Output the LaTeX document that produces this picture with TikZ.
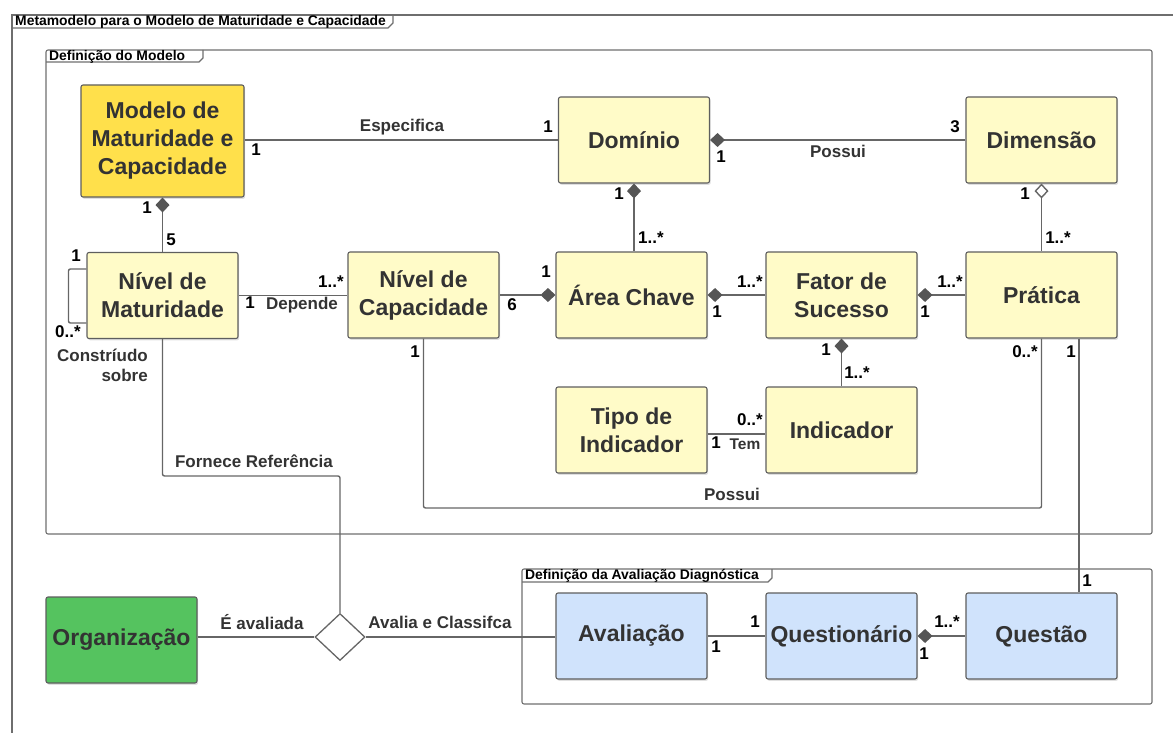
\documentclass[tikz,border=0pt]{standalone}
\usepackage{fontspec}
\setmainfont{Liberation Sans}
\usetikzlibrary{arrows.meta,shapes.geometric,shadows}
\definecolor{ylw}{HTML}{FFE04B}
\definecolor{lyl}{HTML}{FFFBC8}
\definecolor{grn}{HTML}{55C35F}
\definecolor{blu}{HTML}{D0E3FC}
\definecolor{txt}{HTML}{333333}
\definecolor{boxline}{HTML}{5E5E5E}
\definecolor{lnc}{HTML}{666666}
\definecolor{dmc}{HTML}{555555}
\definecolor{frm}{HTML}{6E6E6E}
\begin{document}
\begin{tikzpicture}[x=1pt,y=-1pt,
  cls/.style={draw=boxline, line width=1.1pt, rounded corners=2pt,
    minimum width=151pt, minimum height=86pt, inner sep=2pt, align=center,
    font=\fontsize{23}{28}\selectfont\bfseries, text=txt,
    drop shadow={shadow xshift=1.2pt, shadow yshift=-1.8pt, opacity=.25}},
  lbl/.style={font=\fontsize{17}{20}\selectfont\bfseries, text=txt, inner sep=0},
  mult/.style={font=\fontsize{17}{20}\selectfont\bfseries, text=black, inner sep=0},
  ftitle/.style={font=\fontsize{13.9}{16}\selectfont\bfseries, text=black, inner sep=0, anchor=west},
  conn/.style={draw=lnc, line width=1.4pt, rounded corners=2pt},
  comp/.style={conn, {Diamond[length=15pt,width=14pt,color=dmc]}-},
  aggr/.style={conn, {Diamond[open,length=15pt,width=14pt,fill=white]}-},
  frame/.style={draw=frm, line width=1.1pt}]
\useasboundingbox (0,0) rectangle (1173,733);

% outer package frame
\draw[frame] (12,733) -- (12,15) -- (1173,15);
\draw[frame] (12,28) -- (388,28) -- (393,23) -- (393,15);
\node[ftitle] (t1) at (15,21.5) {Metamodelo para o Modelo de Maturidade e Capacidade};

% model definition frame
\draw[frame, rounded corners=2pt] (46,50) rectangle (1152,534);
\draw[frame] (46,62) -- (199,62) -- (203,58) -- (203,50);
\node[ftitle] (t2) at (49,56.5) {Definição do Modelo};

% diagnostic assessment frame
\draw[frame, rounded corners=2pt] (522,569) rectangle (1152,704);
\draw[frame] (522,582) -- (768,582) -- (772,578) -- (772,569);
\node[ftitle] (t3) at (525,575.5) {Definição da Avaliação Diagnóstica};

% classes
\node[cls, fill=ylw, minimum width=163pt, minimum height=112pt] (mmc) at (162.5,141) {Modelo de\\Maturidade e\\Capacidade};
\node[cls, fill=lyl] (dom) at (634,140) {Domínio};
\node[cls, fill=lyl] (dim) at (1041.5,140) {Dimensão};
\node[cls, fill=lyl] (nm) at (162.5,295.5) {Nível de\\Maturidade};
\node[cls, fill=lyl] (nc) at (423.5,295) {Nível de\\Capacidade};
\node[cls, fill=lyl] (ac) at (631.5,295) {Área Chave};
\node[cls, fill=lyl] (fs) at (841.5,295) {Fator de\\Sucesso};
\node[cls, fill=lyl] (pr) at (1041.5,295) {Prática};
\node[cls, fill=lyl] (ti) at (631.5,430) {Tipo de\\Indicador};
\node[cls, fill=lyl] (ind) at (841.5,430) {Indicador};
\node[cls, fill=grn] (org) at (121.5,640) {Organização};
\node[cls, fill=blu] (av) at (631.5,636) {Avaliação};
\node[cls, fill=blu] (qn) at (841.5,636) {Questionário};
\node[cls, fill=blu] (qs) at (1041.5,636) {Questão};
\node[diamond, draw=lnc, line width=1.3pt, fill=white, inner sep=0,
  minimum width=50pt, minimum height=47pt] (dmd) at (340,637) {};

\coordinate (py) at (0,508);
\coordinate (fy) at (0,476);

% associations
\draw[conn] (mmc.east |- dom.west) -- (dom.west);
\draw[comp] (dom.east) -- (dim.west);
\draw[comp] (mmc.south) -- (nm.north);
\draw[conn] ([yshift=26.5pt]nm.west) -- ++(-18,0) |- ([yshift=-27.5pt]nm.west);
\draw[conn] (nm.east) -- (nm.east -| nc.west);
\draw[comp] (ac.west) -- (ac.west -| nc.east);
\draw[comp] (dom.south) -- (dom.south |- ac.north);
\draw[comp] (ac.east) -- (fs.west);
\draw[comp] (fs.east) -- (pr.west);
\draw[aggr] (dim.south) -- (pr.north);
\draw[comp] (fs.south) -- (ind.north);
\draw[conn] ([yshift=-4pt]ti.east) -- ([yshift=-4pt]ind.west);
\draw[conn] (nc.south) -- (nc.south |- py) -- (pr.south |- py) -- (pr.south);
\draw[conn] ([xshift=37.5pt]pr.south) -- ([xshift=37.5pt]pr.south |- qs.north);
\draw[conn] (nm.south) -- (nm.south |- fy) -- (dmd.north |- fy) -- (dmd.north);
\draw[conn] (org.east |- dmd.west) -- (dmd.west);
\draw[conn] (dmd.east) -- (dmd.east -| av.west);
\draw[conn] (av.east) -- (qn.west);
\draw[comp] (qn.east) -- (qs.west);

% association names
\node[lbl] (a1) at (402,127) {Especifica};
\node[lbl] (a2) at (838,151) {Possui};
\node[lbl, align=right, anchor=east, font=\fontsize{17}{20}\selectfont\bfseries] (a3) at (148,365) {Constríudo\\sobre};
\node[lbl] (a4) at (302,305) {Depende};
\node[lbl, font=\fontsize{15.5}{18}\selectfont\bfseries] (a5) at (745,444) {Tem};
\node[lbl] (a6) at (732,494) {Possui};
\node[lbl] (a7) at (254,461) {Fornece Referência};
\node[lbl] (a8) at (262,622) {É avaliada};
\node[lbl] (a9) at (440,622) {Avalia e Classifca};

% multiplicities
\node[mult] (m1) at (548,127) {1};
\node[mult] (m2) at (256,150) {1};
\node[mult] (m3) at (721,157) {1};
\node[mult] (m4) at (955,127) {3};
\node[mult] (m5) at (147,208) {1};
\node[mult] (m6) at (171,240) {5};
\node[mult] (m7) at (76,256) {1};
\node[mult] (m8) at (68,332) {0..*};
\node[mult] (m9) at (250,303) {1};
\node[mult] (m10) at (331,282) {1..*};
\node[mult] (m11) at (512,305) {6};
\node[mult] (m12) at (546,272) {1};
\node[mult] (m13) at (619,194) {1};
\node[mult] (m14) at (651,238) {1..*};
\node[mult] (m15) at (750,282) {1..*};
\node[mult] (m16) at (717,312) {1};
\node[mult] (m17) at (950,282) {1..*};
\node[mult] (m18) at (925,312) {1};
\node[mult] (m19) at (1025,194) {1};
\node[mult] (m20) at (1058,238) {1..*};
\node[mult] (m21) at (826,350) {1};
\node[mult] (m22) at (857,373) {1..*};
\node[mult] (m23) at (750,420) {0..*};
\node[mult] (m24) at (716,443) {1};
\node[mult] (m25) at (415,352) {1};
\node[mult] (m26) at (1025,352) {0..*};
\node[mult] (m27) at (1071,352) {1};
\node[mult] (m28) at (1087,581) {1};
\node[mult] (m29) at (755,622) {1};
\node[mult] (m30) at (716,647) {1};
\node[mult] (m31) at (947,622) {1..*};
\node[mult] (m32) at (924,654) {1};
\end{tikzpicture}
\end{document}
